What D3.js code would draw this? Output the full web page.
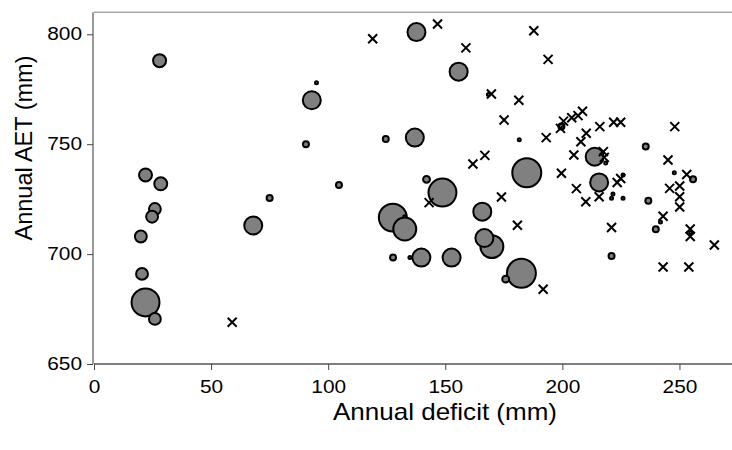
<!DOCTYPE html>
<html lang="en">
	<head>
		<meta charset="utf-8">
		<title>Annual AET vs annual deficit</title>
		<script type="text/javascript" src="https://cdn.jsdelivr.net/npm/d3@7"></script>
		<style type="text/css">
			body { margin: 0; background: #fff; }
			svg { display: block; }
		</style>
	</head>
	<body>
		<script type="text/javascript">
			//Width and height
			var w = 732;
			var h = 450;

			//Tick labels
			var xTicks = [0, 50, 100, 150, 200, 250];
			var yTicks = [650, 700, 750, 800];

			//Circle series: deficit, AET and a size weight
			var circDeficit = [28, 93, 95, 90.5, 22, 28.5, 75, 26, 24.8, 68, 20, 20.5, 22, 26,
				137.7, 155.7, 124.6, 137, 181.6, 168.4, 104.6, 142, 148.8, 184.8,
				127.6, 132.7, 132.7, 165.8, 169.9, 166.7, 127.7, 134.9, 139.8, 152.7,
				182.5, 175.8, 199.6, 235.6, 213.8, 218.5, 215.7, 225.9, 247.8, 255.8,
				221.6, 221, 225.9, 236.7, 241.9, 239.9, 254.8, 221];
			var circAET = [788, 770, 778, 750, 736, 732, 725.5, 720.5, 717, 713, 708, 691, 678, 670.5,
				801, 783, 752.4, 753, 752, 772.6, 731.4, 734, 728, 737,
				716.6, 717, 711.4, 719.3, 703.4, 707.3, 698.4, 698.4, 698.4, 698.4,
				691.3, 688.6, 758, 749, 744.3, 741.4, 732.6, 736, 737, 734,
				727.3, 725.4, 725.4, 724.3, 714.6, 711.3, 709.8, 699.1];
			var circSize = [14, 25, 1, 4, 14, 14, 4, 12, 12, 25, 12, 12, 56, 12,
				25, 25, 4, 25, 1, 1, 4, 5, 56, 60,
				56, 1, 39, 25, 39, 25, 4, 1, 25, 25,
				60, 5, 4, 4, 25, 1, 25, 1, 1, 4,
				1, 1, 1, 4, 1, 4, 1, 4];

			//Cross series: deficit and AET
			var crossDeficit = [59, 119, 146.7, 158.8, 169.7, 181.4, 175.1, 166.9, 161.8, 174,
				143.1, 180.8, 191.8, 187.8, 193.9, 199.2, 200.5, 204, 206.7, 208.6,
				193.1, 210.2, 207.9, 216, 221.9, 224.9, 248, 204.9, 217.5, 217.9,
				245.1, 199.6, 223.4, 224.9, 253.1, 245.8, 250.1, 250.1, 250.1, 206,
				210, 215.7, 243, 221, 254.6, 254.6, 264.9, 243, 254];
			var crossAET = [669, 798, 804.7, 793.8, 772.8, 770, 761, 744.9, 741, 726,
				723.4, 713.1, 684, 801.6, 788.6, 757.2, 760.5, 762, 763, 765,
				753, 755, 751.1, 758, 760, 760, 758, 745.1, 746.6, 744,
				742.8, 736.8, 732.6, 734.4, 736.2, 729.9, 731, 726.1, 721.4, 729.8,
				723.8, 726.1, 717.2, 712.1, 711.4, 708, 704.1, 694.1, 694.1];

			var circles = circDeficit.map(function(d, i) {
				return { x: d, y: circAET[i], s: circSize[i] };
			});
			var crosses = crossDeficit.map(function(d, i) {
				return { x: d, y: crossAET[i] };
			});

			//Scales
			var xScale = d3.scaleLinear()
							.domain([0, 275])
							.range([94, 738]);
			var yScale = d3.scaleLinear()
							.domain([650, 810])
							.range([364, 12.3]);
			var rScale = d3.scaleSqrt()
							.domain([0, 64])
							.range([0, 16]);

			var font = "Liberation Sans, Arial, sans-serif";

			//Create SVG element
			var svg = d3.select("body")
						.append("svg")
						.attr("width", w)
						.attr("height", h);

			//Top frame line
			svg.append("line")
				.attr("x1", xScale(0))
				.attr("x2", w)
				.attr("y1", yScale(810))
				.attr("y2", yScale(810))
				.attr("stroke", "#a8a8a8")
				.attr("stroke-width", 1.5);

			//Axes
			var xAxis = d3.axisBottom(xScale)
							.tickValues(xTicks)
							.tickSize(6)
							.tickPadding(11);
			var yAxis = d3.axisLeft(yScale)
							.tickValues(yTicks)
							.tickSize(6)
							.tickPadding(5);

			var gx = svg.append("g")
				.attr("class", "x axis")
				.attr("transform", "translate(0," + yScale(650) + ")")
				.call(xAxis);
			var gy = svg.append("g")
				.attr("class", "y axis")
				.attr("transform", "translate(" + (xScale(0) - 1) + ",0)")
				.call(yAxis);

			gx.select(".domain").attr("d", "M" + xScale(0) + ",0H" + w).attr("stroke", "#555").attr("stroke-width", 1.5);
			gy.select(".domain").attr("d", "M0," + yScale(650) + "V" + yScale(810)).attr("stroke", "#777").attr("stroke-width", 1.5);
			svg.selectAll(".axis .tick line").attr("stroke", "#444");
			//tick labels are wide and short in the original, so stretch them
			svg.selectAll(".axis text")
				.attr("fill", "#000")
				.attr("font-family", font)
				.attr("font-size", "17.5px")
				.attr("textLength", function() { return 11.6 * this.textContent.length; })
				.attr("lengthAdjust", "spacingAndGlyphs");

			//Circles
			svg.append("g")
				.selectAll("circle")
				.data(circles)
				.enter()
				.append("circle")
				.attr("cx", function(d) { return xScale(d.x); })
				.attr("cy", function(d) { return yScale(d.y); })
				.attr("r", function(d) { return Math.max(rScale(d.s) - 1, 1.5); })
				.attr("fill", "#808080")
				.attr("stroke", "#000")
				.attr("stroke-width", 2);

			//Crosses
			var cs = 4.5;
			svg.append("g")
				.selectAll("path")
				.data(crosses)
				.enter()
				.append("path")
				.attr("d", function(d) {
					var cx = xScale(d.x), cy = yScale(d.y);
					return "M" + (cx - cs) + "," + (cy - cs) + "L" + (cx + cs) + "," + (cy + cs) +
						"M" + (cx + cs) + "," + (cy - cs) + "L" + (cx - cs) + "," + (cy + cs);
				})
				.attr("stroke", "#000")
				.attr("stroke-width", 2)
				.attr("fill", "none");

			//Axis titles
			svg.append("text")
				.attr("x", 445)
				.attr("y", 420)
				.attr("text-anchor", "middle")
				.attr("font-family", font)
				.attr("font-size", "24px")
				.attr("textLength", 224)
				.attr("lengthAdjust", "spacingAndGlyphs")
				.text("Annual deficit (mm)");
			svg.append("text")
				.attr("transform", "translate(32,148) rotate(-90)")
				.attr("text-anchor", "middle")
				.attr("font-family", font)
				.attr("font-size", "24px")
				.attr("textLength", 185)
				.attr("lengthAdjust", "spacingAndGlyphs")
				.text("Annual AET (mm)");
		</script>
	</body>
</html>
